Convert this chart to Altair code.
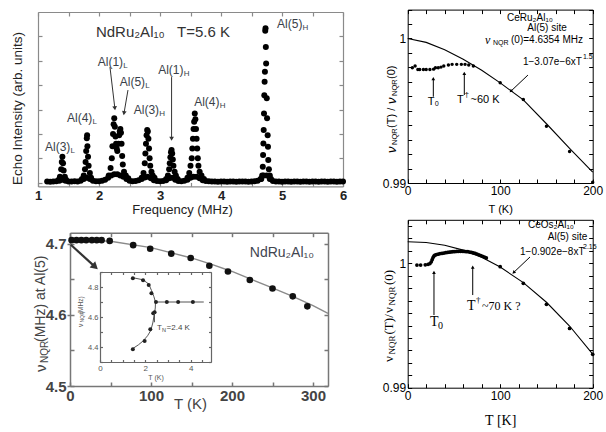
import altair as alt
import pandas as pd

W, H = 606, 432

# ============================ DATA ============================
# (a) NdRu2Al10 NQR spectrum, T = 5.6 K : (frequency [MHz], echo intensity [arb.])
baseline_pts = [
    (1.15, 0.05), (1.20, 0.04), (1.25, 0.05), (1.30, 0.06), (1.35, 0.08), (1.40, 0.12), (1.45, 0.08),
    (1.50, 0.05), (1.55, 0.05), (1.60, 0.06), (1.65, 0.05), (1.70, 0.08), (1.75, 0.15), (1.80, 0.20),
    (1.85, 0.15), (1.90, 0.08), (1.95, 0.06), (2.00, 0.06), (2.05, 0.08), (2.10, 0.12), (2.15, 0.20),
    (2.20, 0.30), (2.25, 0.35), (2.30, 0.35), (2.35, 0.30), (2.40, 0.25), (2.45, 0.15), (2.50, 0.08),
    (2.55, 0.06), (2.60, 0.07), (2.65, 0.10), (2.70, 0.15), (2.75, 0.22), (2.80, 0.25), (2.85, 0.18),
    (2.90, 0.10), (2.95, 0.07), (3.00, 0.06), (3.05, 0.07), (3.10, 0.10), (3.15, 0.18), (3.20, 0.20),
    (3.25, 0.12), (3.30, 0.07), (3.35, 0.06), (3.40, 0.08), (3.45, 0.12), (3.50, 0.20), (3.55, 0.25),
    (3.60, 0.25), (3.65, 0.18), (3.70, 0.10), (3.75, 0.07), (3.80, 0.06), (3.85, 0.05), (3.90, 0.05),
    (3.95, 0.04), (4.00, 0.05), (4.05, 0.05), (4.10, 0.04), (4.15, 0.05), (4.20, 0.05), (4.25, 0.04),
    (4.30, 0.05), (4.35, 0.05), (4.40, 0.05), (4.45, 0.04), (4.50, 0.05), (4.55, 0.06), (4.60, 0.08),
    (4.65, 0.15), (4.70, 0.30), (4.75, 0.30), (4.80, 0.15), (4.85, 0.07), (4.90, 0.05), (4.95, 0.05),
    (5.00, 0.04), (5.05, 0.05), (5.10, 0.05), (5.15, 0.04), (5.20, 0.05), (5.25, 0.05), (5.30, 0.04),
    (5.35, 0.05), (5.40, 0.05), (5.45, 0.04), (5.50, 0.05), (5.55, 0.05), (5.60, 0.04), (5.65, 0.05),
    (5.70, 0.05), (5.75, 0.04), (5.80, 0.05), (5.85, 0.05), (5.90, 0.04), (5.95, 0.05), (6.00, 0.05),
]
peak_al3L = [(1.34, 0.12), (1.36, 0.25), (1.38, 0.55), (1.39, 0.85), (1.40, 1.07), (1.41, 0.80),
             (1.42, 0.50), (1.44, 0.25), (1.46, 0.12)]
peak_al4L = [(1.72, 0.15), (1.75, 0.30), (1.77, 0.55), (1.78, 0.85), (1.79, 1.30), (1.80, 1.82),
             (1.805, 1.95), (1.81, 1.50), (1.82, 1.07), (1.83, 0.70), (1.85, 0.40), (1.87, 0.20)]
peak_al15L = [(2.16, 0.30), (2.19, 0.60), (2.21, 1.00), (2.22, 1.50), (2.23, 2.00), (2.24, 2.40),
              (2.25, 2.64), (2.26, 2.30), (2.27, 1.90), (2.28, 1.60), (2.29, 1.40), (2.30, 1.30),
              (2.32, 1.60), (2.33, 1.95), (2.34, 2.10), (2.35, 2.20), (2.36, 2.05), (2.37, 1.60),
              (2.38, 1.10), (2.39, 0.75), (2.41, 0.45), (2.44, 0.30), (2.48, 0.18)]
peak_al3H = [(2.70, 0.20), (2.73, 0.40), (2.75, 0.80), (2.76, 1.20), (2.77, 1.60), (2.78, 1.95),
             (2.79, 2.16), (2.80, 2.10), (2.81, 1.80), (2.82, 1.40), (2.83, 1.00), (2.84, 0.70),
             (2.86, 0.45), (2.88, 0.30), (2.91, 0.20)]
peak_al1H = [(3.10, 0.15), (3.13, 0.30), (3.15, 0.55), (3.16, 0.80), (3.17, 1.05), (3.18, 1.25),
             (3.19, 1.34), (3.20, 1.20), (3.21, 0.95), (3.22, 0.70), (3.24, 0.45), (3.26, 0.30),
             (3.29, 0.15)]
peak_al4H = [(3.45, 0.20), (3.48, 0.40), (3.50, 0.70), (3.52, 1.00), (3.53, 1.40), (3.54, 1.80),
             (3.55, 2.20), (3.56, 2.50), (3.57, 2.84), (3.58, 2.60), (3.59, 2.20), (3.60, 1.80),
             (3.61, 1.40), (3.62, 1.00), (3.63, 0.70), (3.65, 0.45), (3.68, 0.30), (3.72, 0.15)]
peak_al5H = [(4.66, 0.15), (4.675, 0.30), (4.685, 0.66), (4.69, 1.14), (4.695, 1.61), (4.70, 2.16),
             (4.705, 2.84), (4.71, 3.59), (4.715, 4.14), (4.72, 4.55), (4.725, 6.23), (4.73, 6.33),
             (4.735, 5.57), (4.74, 4.89), (4.75, 3.46), (4.755, 2.64), (4.765, 1.95), (4.77, 1.48),
             (4.775, 0.93), (4.785, 0.55), (4.80, 0.30), (4.82, 0.15)]

site_labels = ["Al(3)", "Al(4)", "Al(1)", "Al(5)", "Al(3)", "Al(1)", "Al(4)", "Al(5)"]
site_subs = ["L", "L", "L", "L", "H", "H", "H", "H"]
site_f = [1.115, 1.475, 1.98, 2.34, 2.57, 2.97, 3.56, 4.92]
site_I = [1.46, 2.65, 4.95, 4.13, 2.98, 4.62, 3.31, 6.50]

# (b) NdRu2Al10 nu_NQR at Al(5) vs T
bl_T = [2, 8, 14, 20, 27, 33, 39, 49, 78, 99, 125, 149, 172, 195, 222, 250, 275, 293]
bl_v = [4.705, 4.705, 4.705, 4.705, 4.705, 4.705, 4.705, 4.704, 4.698, 4.693, 4.686, 4.680,
        4.669, 4.661, 4.649, 4.637, 4.626, 4.612]
bl_curve_T = [0, 50, 100, 150, 175, 200, 243, 275, 300, 318.5]
bl_curve_v = [4.706, 4.7035, 4.6945, 4.680, 4.671, 4.661, 4.641, 4.626, 4.613, 4.602]

# inset: low-T nu_NQR
ins_T = [1.45, 1.9, 2.15, 2.27, 2.47, 2.95, 3.45, 4.1, 2.41, 2.35, 2.22, 1.97, 1.45]
ins_v = [4.858, 4.845, 4.813, 4.758, 4.70, 4.70, 4.70, 4.70, 4.632, 4.625, 4.518, 4.44, 4.385]
ins_curve_T = [1.45, 1.9, 2.15, 2.28, 2.38, 2.45, 2.44, 2.40, 2.33, 2.24, 2.1, 1.9, 1.7, 1.45]
ins_curve_v = [4.862, 4.848, 4.82, 4.775, 4.735, 4.70, 4.66, 4.62, 4.56, 4.51, 4.475, 4.44, 4.415, 4.39]
ins_flat_T = [2.45, 4.58]
ins_flat_v = [4.70, 4.70]

# (c) CeRu2Al10 normalised nu_NQR
tr_T = [5, 8, 11, 13, 17, 20, 24, 28, 30, 33, 36, 39, 44, 48, 53, 58, 62, 66, 71,
        100, 125, 150, 175, 200]
tr_r = [0.99798, 0.9981, 0.99786, 0.99786, 0.99786, 0.99786, 0.99786, 0.99788, 0.99798, 0.99798,
        0.99802, 0.9981, 0.99816, 0.99821, 0.99821, 0.99821, 0.99821, 0.99816, 0.9981,
        0.99694, 0.99578, 0.99392, 0.99218, 0.99006]
tr_curve_T = [0, 20, 40, 60, 80, 100, 125, 150, 175, 200]
tr_curve_r = [1.0, 0.99973, 0.99922, 0.99857, 0.9978, 0.99693, 0.99575, 0.9941, 0.9924, 0.99075]

# (d) CeOs2Al10 normalised nu_NQR
br_T = [10, 14, 19, 22, 24, 25.5, 26.5, 27.5, 28.5, 29.5, 31, 33, 35, 37, 39, 41, 43, 45, 47, 49,
        51, 53, 55, 57, 59, 61, 63, 65, 67, 69, 71, 73, 75, 77, 79, 81, 83, 85,
        100, 125, 150, 175, 200]
br_r = [0.99986, 0.99986, 0.99988, 0.99992, 0.99998, 1.00012, 1.0003, 1.00048, 1.0006, 1.00066,
        1.0007, 1.00074, 1.00078, 1.0008, 1.00083, 1.00086, 1.00088, 1.0009, 1.00092, 1.00094,
        1.00095, 1.00096, 1.00097, 1.00097, 1.00097, 1.00096, 1.00095, 1.00094, 1.00091, 1.00088,
        1.00084, 1.0008, 1.00075, 1.00068, 1.00062, 1.00056, 1.0005, 1.00043,
        0.99973, 0.99839, 0.9967, 0.99477, 0.99268]
br_curve_T = [0, 20, 40, 60, 80, 100, 125, 150, 175, 200]
br_curve_r = [1.00174, 1.00168, 1.00146, 1.00106, 1.00048, 0.9997, 0.99845, 0.99687, 0.99496, 0.9927]

# tick values
tl_xticks = [1, 1.5, 2, 2.5, 3, 3.5, 4, 4.5, 5, 5.5, 6]
tl_yticks = [0, 1, 2, 3, 4, 5, 6]
bl_xticks = [0, 50, 100, 150, 200, 250, 300]
bl_yticks = [4.5, 4.55, 4.6, 4.65, 4.7]
in_xticks = [0, 0.5, 1, 1.5, 2, 2.5, 3, 3.5, 4, 4.5]
in_yticks = [4.3, 4.4, 4.5, 4.6, 4.7, 4.8, 4.9]
r_xticks = [0, 20, 40, 60, 80, 100, 120, 140, 160, 180, 200]
tr_yticks = [0.99, 0.991, 0.992, 0.993, 0.994, 0.995, 0.996, 0.997, 0.998, 0.999, 1.0, 1.001, 1.002]
br_yticks = [0.99, 0.991, 0.992, 0.993, 0.994, 0.995, 0.996, 0.997, 0.998, 0.999, 1.0, 1.001, 1.002, 1.003]

# ============================ LAYOUT ============================
P_TL = dict(xd=[1.0, 6.0], xr=[38, 343], yd=[-0.15, 7.0], yr=[186.4, 12.0])
P_BL = dict(xd=[0.0, 318.5], xr=[70, 328], yd=[4.5, 4.7155], yr=[386, 232.7])
P_IN = dict(xd=[0.0, 4.9], xr=[100, 211], yd=[4.3, 4.9], yr=[362, 272])
P_TR = dict(xd=[0.0, 200.0], xr=[407.7, 592.7], yd=[0.99, 1.002], yr=[183, 9.6])
P_BR = dict(xd=[0.0, 200.0], xr=[407.7, 592.7], yd=[0.99, 1.0035], yr=[387.7, 219.8])

SANS = "Liberation Sans"
SERIF = "Liberation Serif"


def sc(p, k):
    return alt.Scale(domain=p[k + "d"], range=p[k + "r"], nice=False, zero=False)


def XY(p, xaxis=None, yaxis=None):
    return dict(x=alt.X("x:Q", scale=sc(p, "x"), axis=xaxis),
                y=alt.Y("y:Q", scale=sc(p, "y"), axis=yaxis))


def ax(orient, at, **kw):
    off = {"bottom": at - H, "top": -at, "left": -at, "right": at - W}[orient]
    d = dict(orient=orient, offset=off, grid=False, title=None, labels=False, ticks=False,
             domain=False, labelFlush=False, labelOverlap=False)
    d.update(kw)
    return alt.Axis(**d)


def anchor_df(p):
    return pd.DataFrame({"x": [p["xd"][0]], "y": [p["yd"][0]]})


def frame(p, xt, yt, tick, color, width):
    c = dict(ticks=True, domain=True, tickSize=tick, tickColor=color, domainColor=color,
             tickWidth=width, domainWidth=width)
    left, right = p["xr"]
    bottom, top = p["yr"]
    b = alt.Chart(anchor_df(p)).mark_point(opacity=0).encode(
        **XY(p, ax("top", bottom, values=xt, **c), ax("right", left, values=yt, **c)))
    t = alt.Chart(anchor_df(p)).mark_point(opacity=0).encode(
        **XY(p, ax("bottom", top, values=xt, **c), ax("left", right, values=yt, **c)))
    return [b, t]


def label_axes(p, xaxis, yaxis):
    return alt.Chart(anchor_df(p)).mark_point(opacity=0).encode(**XY(p, xaxis, yaxis))


def pts(p, xs, ys, size, color="black"):
    df = pd.DataFrame({"x": xs, "y": ys})
    return alt.Chart(df).mark_circle(size=size, color=color, opacity=1).encode(**XY(p))


def curve(p, xs, ys, color="black", width=1.0, ordered=False):
    df = pd.DataFrame({"x": xs, "y": ys, "o": list(range(len(xs)))})
    e = XY(p)
    if ordered:
        e["order"] = alt.Order("o:Q")
    return alt.Chart(df).mark_line(color=color, strokeWidth=width).encode(**e)


def txt(p, xs, ys, texts, **kw):
    kw.setdefault("align", "left")
    kw.setdefault("baseline", "middle")
    kw.setdefault("font", SANS)
    df = pd.DataFrame({"x": xs, "y": ys, "t": texts})
    return alt.Chart(df).mark_text(**kw).encode(text="t:N", **XY(p))


def arrows(p, x1, y1, x2, y2, color, width, head=None, hx=None, hy=None, ang=None):
    df = pd.DataFrame({"x": x1, "y": y1, "x2": x2, "y2": y2})
    out = [alt.Chart(df).mark_rule(color=color, strokeWidth=width).encode(
        x2="x2:Q", y2="y2:Q", **XY(p))]
    if head:
        hd = pd.DataFrame({"x": hx, "y": hy, "a": ang})
        out.append(alt.Chart(hd).mark_point(shape="triangle-up", filled=True, size=head,
                                            color=color, opacity=1).encode(
            angle=alt.Angle("a:Q", scale=None), **XY(p)))
    return out


def rot_title(p, x, y, segs, color="black", font=SANS):
    out = []
    for text, dx, dy, size, style in segs:
        kw = dict(angle=270, dx=dx, dy=dy, fontSize=size, color=color, font=font)
        if style == "italic":
            kw["fontStyle"] = "italic"
        out.append(txt(p, [x], [y], [text], **kw))
    return out


layers = []

# ---------------- (a) top-left : spectrum ----------------
spec = (baseline_pts + peak_al3L + peak_al4L + peak_al15L + peak_al3H + peak_al1H
        + peak_al4H + peak_al5H)
layers += frame(P_TL, tl_xticks, tl_yticks, 4, "#8a8a8a", 1.2)
layers.append(label_axes(
    P_TL,
    ax("bottom", 186.4, labels=True, values=[1, 2, 3, 4, 5, 6], format="d", labelFontSize=13,
       labelFontWeight="bold", labelColor="#222", labelPadding=3, title="Frequency (MHz)",
       titleFontSize=13, titleFontWeight="normal", titleColor="#222", titleX=182, titleY=17),
    ax("left", 38, title="Echo Intensity (arb. units)", titleFontSize=13.5,
       titleFontWeight="normal", titleColor="#222", titlePadding=14, titleY=108)))
layers.append(pts(P_TL, [s[0] for s in spec], [s[1] for s in spec], 36))
layers.append(txt(P_TL, site_f, site_I, site_labels, fontSize=12, color="#3a3f4a"))
layers.append(txt(P_TL, site_f, site_I, site_subs, fontSize=8, color="#3a3f4a", dx=25.5, dy=4))
layers.append(txt(P_TL, [1.95, 3.28], [6.18, 6.18], ["NdRu₂Al₁₀", "T=5.6 K"], fontSize=15,
                  color="#333"))
layers += arrows(P_TL, [2.18, 2.475, 3.19], [4.74, 3.80, 4.33], [2.26, 2.41, 3.19],
                 [3.05, 2.85, 1.80], "#333", 1, head=22, hx=[2.26, 2.41, 3.19],
                 hy=[3.05, 2.85, 1.80], ang=[173, 189, 180])

# ---------------- (b) bottom-left : nu_NQR(T) ----------------
layers += frame(P_BL, bl_xticks, bl_yticks, 4, "#777", 1.5)
layers.append(label_axes(
    P_BL,
    ax("bottom", 386, labels=True, values=[0, 100, 200, 300], format="d", labelFontSize=15,
       labelFontWeight="bold", labelColor="#444", labelPadding=2, title="T (K)",
       titleFontSize=15, titleFontWeight="normal", titleColor="#444", titleX=190, titleY=10),
    ax("left", 70, labels=True, values=[4.5, 4.6, 4.7], format=".1f", labelFontSize=15,
       labelFontWeight="bold", labelColor="#444", labelPadding=1, ticks=True, tickSize=3,
       tickColor="#777", tickWidth=1.5)))
layers.append(curve(P_BL, bl_curve_T, bl_curve_v, "#8a8a8a", 1.4))
layers.append(pts(P_BL, bl_T, bl_v, 44, "#111"))
layers.append(txt(P_BL, [222], [4.6865], ["NdRu₂Al₁₀"], fontSize=14, color="#3f4550"))
layers += rot_title(P_BL, -35.8, 4.5197,
                    [("ν", 0, 0, 15, "normal"), ("NQR", 9, 4, 10, "normal"),
                     (" (MHz) at Al(5)", 30, 0, 14, "normal")], color="#444")
layers += arrows(P_BL, [1], [4.6985], [31], [4.6675], "#333", 2.2, head=70, hx=[31],
                 hy=[4.6675], ang=[132])

# inset
layers += frame(P_IN, in_xticks, in_yticks, 2.5, "#666", 1.2)
layers.append(label_axes(
    P_IN,
    ax("bottom", 362, labels=True, values=[0, 2, 4], format="d", labelFontSize=8,
       labelColor="#555", labelPadding=2, title="T (K)", titleFontSize=7,
       titleFontWeight="normal", titleColor="#555", titlePadding=1),
    ax("left", 100, labels=True, values=[4.4, 4.6, 4.8], format=".1f", labelFontSize=7.5,
       labelColor="#555", labelPadding=2)))
layers.append(curve(P_IN, ins_curve_T, ins_curve_v, "#555", 1.0, ordered=True))
layers.append(curve(P_IN, ins_flat_T, ins_flat_v, "#555", 1.0))
layers.append(pts(P_IN, ins_T, ins_v, 16, "#222"))
layers += arrows(P_IN, [2.4], [4.565], [2.4], [4.625], "#444", 1)
layers.append(txt(P_IN, [2.52], [4.527], ["T"], fontSize=8, color="#444"))
layers.append(txt(P_IN, [2.52], [4.527], ["N"], fontSize=5.5, color="#444", dx=5, dy=2))
layers.append(txt(P_IN, [2.52], [4.527], ["=2.4 K"], fontSize=8, color="#444", dx=9.5))
layers += rot_title(P_IN, -0.85, 4.533,
                    [("ν", 0, 0, 7, "normal"), ("NQR", 4.5, 1.5, 5, "normal"),
                     (" (MHz)", 13, 0, 6.5, "normal")], color="#555")

# ---------------- (c) top-right : CeRu2Al10 ----------------
layers += frame(P_TR, r_xticks, tr_yticks, 4, "black", 1)
layers.append(label_axes(
    P_TR,
    ax("bottom", 183, labels=True, values=[0, 100, 200], format="d", labelFontSize=12,
       labelColor="black", labelPadding=2, title="T (K)", titleFontSize=11,
       titleFontWeight="normal", titleColor="black", titlePadding=7),
    ax("left", 407.7, labels=True, values=[0.99, 1.0], format=".3~f", labelFontSize=12,
       labelColor="black", labelPadding=2)))
layers.append(curve(P_TR, tr_curve_T, tr_curve_r, "black", 1.1))
layers.append(pts(P_TR, tr_T, tr_r, 12))
layers.append(txt(P_TR, [132.2, 150.6], [1.00142, 1.00073], ["CeRu₂Al₁₀", "Al(5) site"],
                  fontSize=10, align="center"))
layers.append(txt(P_TR, [83.6], [0.9999], ["ν"], fontSize=12, font=SERIF, fontStyle="italic"))
layers.append(txt(P_TR, [83.6], [0.9999], ["NQR"], fontSize=7, dx=8, dy=3))
layers.append(txt(P_TR, [83.6], [0.9999], ["(0)=4.6354 MHz"], fontSize=10, dx=26))
layers.append(txt(P_TR, [124.6], [0.99837], ["1−3.07e−6xT"], fontSize=10))
layers.append(txt(P_TR, [124.6], [0.99837], ["1.5"], fontSize=7, dx=60, dy=-5))
layers += arrows(P_TR, [130, 27.7, 61.2], [0.99747, 0.99597, 0.99609],
                 [111.5, 27.7, 61.2], [0.99635, 0.99722, 0.99758], "black", 1, head=14,
                 hx=[111.5, 27.7, 61.2], hy=[0.99635, 0.99722, 0.99758], ang=[227, 0, 0])
layers.append(txt(P_TR, [27.7], [0.99562], ["T₀"], fontSize=11, align="center"))
layers.append(txt(P_TR, [53.3], [0.99574], ["T"], fontSize=11))
layers.append(txt(P_TR, [53.3], [0.99574], ["†"], fontSize=8, dx=7.5, dy=-5))
layers.append(txt(P_TR, [53.3], [0.99574], ["~60 K"], fontSize=11, dx=13.5))
layers += rot_title(P_TR, -17.3, 0.99208,
                    [("ν", 0, 0, 13, "italic"), ("NQR", 8, 3, 7.5, "normal"),
                     ("(T) / ", 25, 0, 11, "normal"), ("ν", 49, 0, 13, "italic"),
                     ("NQR", 57, 3, 7.5, "normal"), ("(0)", 74, 0, 11, "normal")])

# ---------------- (d) bottom-right : CeOs2Al10 ----------------
layers += frame(P_BR, r_xticks, br_yticks, 4, "black", 1)
layers.append(label_axes(
    P_BR,
    ax("bottom", 387.7, labels=True, values=[0, 100, 200], format="d", labelFontSize=12,
       labelColor="black", labelPadding=3, title="T [K]", titleFont=SERIF, titleFontSize=14,
       titleFontWeight="normal", titleColor="black", titlePadding=12),
    ax("left", 407.7, labels=True, values=[0.99, 1.0], format=".3~f", labelFontSize=12,
       labelColor="black", labelPadding=2)))
layers.append(curve(P_BR, br_curve_T, br_curve_r, "black", 1.1))
layers.append(pts(P_BR, br_T, br_r, 14))
layers.append(txt(P_BR, [154.9, 172.8], [1.00308, 1.00211], ["CeOs₂Al₁₀", "Al(5) site"],
                  fontSize=10, align="center"))
layers.append(txt(P_BR, [121.4], [1.00091], ["1−0.902e−8xT"], fontSize=10))
layers.append(txt(P_BR, [121.4], [1.00091], ["2.15"], fontSize=7, dx=63, dy=-5))
layers += arrows(P_BR, [132.2, 28.4, 70.3], [1.00051, 0.99584, 0.99745],
                 [114.5, 28.4, 70.3], [0.99926, 0.99928, 0.99969], "black", 1, head=14,
                 hx=[114.5, 28.4, 70.3], hy=[0.99926, 0.99928, 0.99969], ang=[227, 0, 0])
layers.append(txt(P_BR, [24.1], [0.99528], ["T"], fontSize=14, font=SERIF))
layers.append(txt(P_BR, [24.1], [0.99528], ["0"], fontSize=10, font=SERIF, dx=8, dy=4))
layers.append(txt(P_BR, [64.1], [0.99657], ["T"], fontSize=14, font=SERIF))
layers.append(txt(P_BR, [64.1], [0.99657], ["†"], fontSize=9, font=SERIF, dx=9, dy=-6))
layers.append(txt(P_BR, [64.1], [0.99657], ["~70 K ?"], fontSize=12, font=SERIF, dx=15))
layers += rot_title(P_BR, -20.2, 0.99207,
                    [("ν", 0, 0, 13, "normal"), ("NQR", 7.5, 3, 9, "normal"),
                     ("(T)/", 27.5, 0, 13, "normal"), ("ν", 49, 0, 13, "normal"),
                     ("NQR", 56.5, 3, 9, "normal"), ("(0)", 77, 0, 13, "normal")], font=SERIF)

chart = (
    alt.layer(*layers)
    .resolve_scale(x="independent", y="independent")
    .properties(width=W, height=H, padding=0, autosize=alt.AutoSizeParams(type="none"))
    .configure(font=SANS, background="white")
    .configure_view(stroke=None)
)

chart.save("out.html", embed_options={"renderer": "svg", "actions": False})
